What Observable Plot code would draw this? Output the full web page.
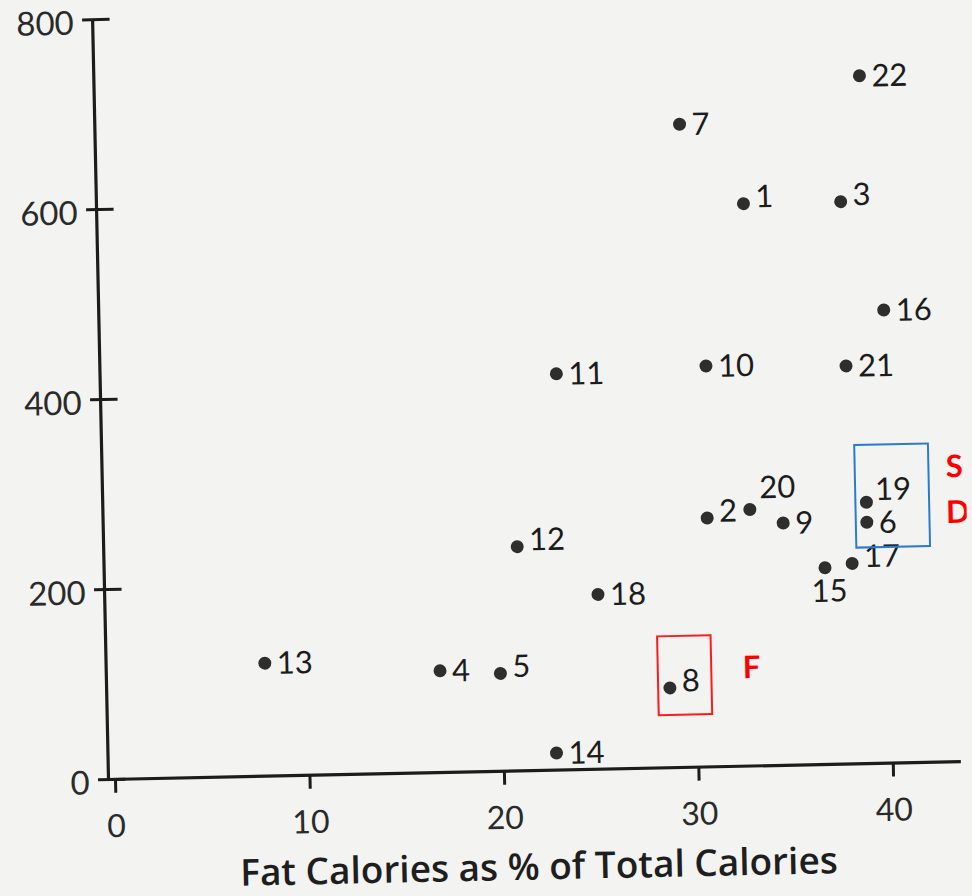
<!DOCTYPE html>
<html>
<head>
<meta charset="utf-8">
<script src="https://cdn.jsdelivr.net/npm/d3@7"></script>
<script src="https://cdn.jsdelivr.net/npm/@observablehq/plot@0.6"></script>
<style>
  html, body { margin: 0; padding: 0; background: #f3f3f1; overflow: hidden; width: 972px; height: 896px; }
  #chart svg { display: block; transform: rotate(-1.2deg); transform-origin: 108px 779px; }
</style>
</head>
<body>
<div id="chart"></div>
<script>
// ---- data ----
const ids      = [1, 2, 3, 4, 5, 6, 7, 8, 9, 10, 11, 12, 13, 14, 15, 16, 17, 18, 19, 20, 21, 22];
const fatPct   = [32.9, 30.7, 37.9, 16.8, 19.9, 38.9, 29.7, 28.6, 34.6, 30.8, 23.1, 20.9, 7.8, 22.7, 36.7, 40.0, 38.1, 25.0, 38.9, 32.9, 38.0, 39.0];
const calories = [592, 262, 592, 107, 103, 254, 677, 84, 255, 422, 417, 236, 119, 18, 207, 477, 211, 184, 275, 270, 419, 724];

const xTicks = [0, 10, 20, 30, 40];
const yTicks = [0, 200, 400, 600, 800];
const xTitle = "Fat Calories as % of Total Calories";

// annotation boxes drawn over the scan
const boxX1 = [38.36, 28.02];
const boxX2 = [42.15, 30.77];
const boxY1 = [227, 55];
const boxY2 = [335, 138];
const boxColor = ["#2a7bcc", "#ff1a1a"];

const noteText = ["S", "D", "F"];
const noteX    = [43.02, 42.98, 32.36];
const noteY    = [310, 262, 103];

// ---- build tables ----
const points = ids.map((id, i) => ({id, x: fatPct[i], y: calories[i]}));
const boxes = boxX1.map((_, i) => ({x1: boxX1[i], x2: boxX2[i], y1: boxY1[i], y2: boxY2[i], c: boxColor[i]}));
const notes = noteText.map((t, i) => ({t, x: noteX[i], y: noteY[i]}));

const xMin = -0.36, xMax = 43.5;
const ink = "#1c1c1c";
const font = "Lato, 'Open Sans', sans-serif";

const raised = new Set([1, 2, 3, 5, 8, 12, 17]);
const special = new Set([15, 19, 20]);

const chart = Plot.plot({
  width: 972,
  height: 910,
  marginLeft: 108,
  marginRight: 11,
  marginTop: 19,
  marginBottom: 131,
  x: {domain: [xMin, xMax], axis: null},
  y: {domain: [0, 800], axis: null},
  style: {background: "transparent", fontFamily: font, color: ink},
  marks: [
    // axes lines
    Plot.ruleX([xMin], {y1: 0, y2: 800, stroke: ink, strokeWidth: 3.2}),
    Plot.ruleY([0], {x1: xMin, x2: xMax, stroke: ink, strokeWidth: 3.2}),
    // y ticks crossing the axis
    Plot.ruleY(yTicks, {x1: xMin, x2: xMin, insetLeft: -10, insetRight: -17.5, stroke: ink, strokeWidth: 3}),
    // x ticks below the axis
    Plot.ruleX(xTicks, {y1: 0, y2: 0, insetBottom: -14, stroke: ink, strokeWidth: 3}),
    // tick labels
    Plot.text(yTicks, {x: xMin, y: d => d, text: d => String(d), textAnchor: "end", dx: -19, dy: 4, fontSize: 33, fill: "#2a2a2a"}),
    Plot.text(xTicks, {x: d => d, y: 0, text: d => String(d), lineAnchor: "top", dy: 35, fontSize: 32, fill: "#2a2a2a"}),
    // points
    Plot.dot(points, {x: "x", y: "y", r: 6.5, fill: "#2e2e2e"}),
    // labels
    Plot.text(points.filter(d => !special.has(d.id) && !raised.has(d.id)), {x: "x", y: "y", text: d => String(d.id), textAnchor: "start", dx: 12, dy: 1, fontSize: 31, fill: ink}),
    Plot.text(points.filter(d => raised.has(d.id)), {x: "x", y: "y", text: d => String(d.id), textAnchor: "start", dx: 12, dy: -6, fontSize: 31, fill: ink}),
    Plot.text(points.filter(d => d.id === 19), {x: "x", y: "y", text: d => String(d.id), textAnchor: "start", dx: 9, dy: -12, fontSize: 31, fill: ink}),
    Plot.text(points.filter(d => d.id === 20), {x: "x", y: "y", text: d => String(d.id), textAnchor: "start", dx: 10, dy: -21, fontSize: 31, fill: ink}),
    Plot.text(points.filter(d => d.id === 15), {x: "x", y: "y", text: d => String(d.id), textAnchor: "middle", dx: 4, dy: 24, fontSize: 31, fill: ink}),
    // axis title
    Plot.text([xTitle], {frameAnchor: "bottom", text: d => d, lineAnchor: "bottom", dx: 2, dy: 109, fontSize: 37, fontWeight: 600, fontFamily: "'Open Sans', sans-serif", fill: "#1e1e1e"}),
    // annotations
    Plot.rect(boxes, {x1: "x1", x2: "x2", y1: "y1", y2: "y2", fill: "none", stroke: "c", strokeWidth: 2}),
    Plot.text(notes, {x: "x", y: "y", text: "t", textAnchor: "start", fontSize: 31, fontWeight: 700, fill: "#ff0000"})
  ]
});

document.getElementById("chart").appendChild(chart);
</script>
</body>
</html>
